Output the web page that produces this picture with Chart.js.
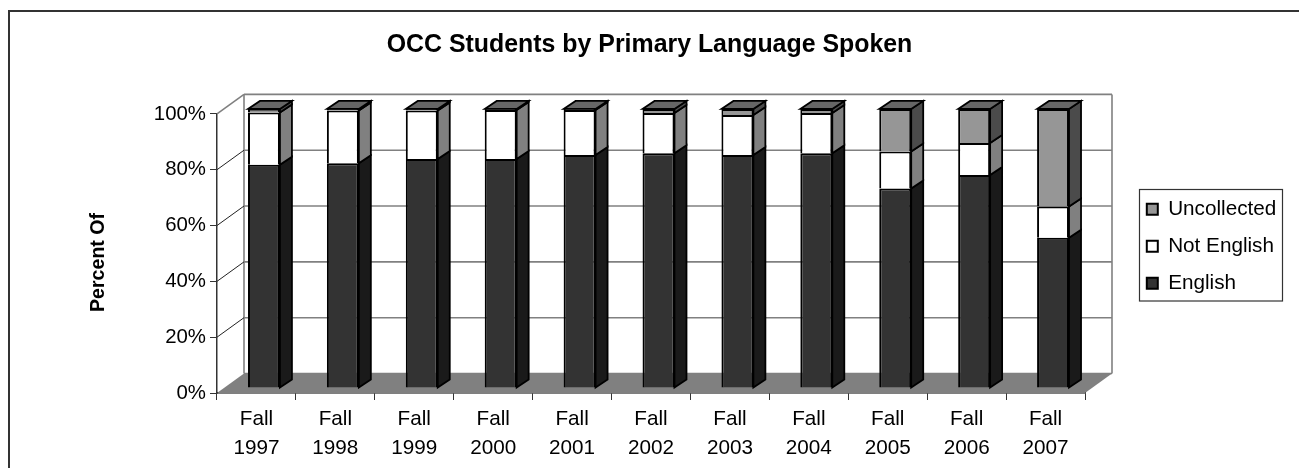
<!DOCTYPE html>
<html><head><meta charset="utf-8">
<style>html,body{margin:0;padding:0;background:#fff}canvas{display:block}</style>
<script src="https://cdn.jsdelivr.net/npm/chart.js@4"></script></head>
<body><canvas id="c" width="1299" height="468"></canvas>
<script>
const categories = [["Fall","1997"],["Fall","1998"],["Fall","1999"],["Fall","2000"],["Fall","2001"],["Fall","2002"],["Fall","2003"],["Fall","2004"],["Fall","2005"],["Fall","2006"],["Fall","2007"]];
const english     = [80, 80.5, 82, 82, 83.5, 84.1, 83.5, 84.1, 71.5, 76.3, 53.8];
const notEnglish  = [18.7, 18.9, 17.4, 17.6, 16.1, 14.4, 14.3, 14.4, 13.2, 11.5, 11.2];
const uncollected = [1.3, 0.6, 0.6, 0.4, 0.4, 1.5, 2.2, 1.5, 15.3, 12.2, 35];
const FONT = '"Liberation Sans", Arial, sans-serif';
const FS = 20.7;
const DEPTH_X = 27, DEPTH_Y = 19.5, BAR_DX = 7.5, BAR_DY = 5, SIDE_X = 12, SIDE_Y = 8;
const sideColors = ['#1a1a1a','#808080','#4b4b4b'];
const topColor = '#666666';

const scene = {
  id:'scene',
  afterLayout(chart){
    if(chart.titleBlock){chart.titleBlock.left=0;chart.titleBlock.right=1299;}
    const lg=chart.legend;
    if(lg){lg.left=1130.5;lg.right=1337;lg.top=182.5;lg.bottom=450;}
    const ys=chart.scales.y;
    if(!ys._titleShifted){
      const orig=ys.drawTitle;
      ys.drawTitle=function(){const c=this.ctx;c.save();c.translate(0,9);orig.call(this);c.restore();};
      ys._titleShifted=true;
    }
  },
  beforeDraw(chart){
    const c=chart.ctx;
    c.save();
    c.fillStyle='#fff';c.fillRect(0,0,1299,468);
    c.strokeStyle='#333';c.lineWidth=2;
    c.beginPath();c.moveTo(9,468);c.lineTo(9,11);c.lineTo(1299,11);c.stroke();
    c.strokeStyle='#333';c.lineWidth=1.2;c.strokeRect(1139.5,189.5,143,111.5);
    c.restore();
  },
  beforeDatasetsDraw(chart){
    const c=chart.ctx,{x:xs,y:ys}=chart.scales;
    const L=xs.left,R=xs.right,B=ys.getPixelForValue(0),T=ys.getPixelForValue(100);
    c.save();
    c.fillStyle='#808080';
    c.beginPath();c.moveTo(L,B);c.lineTo(R,B);c.lineTo(R+DEPTH_X,B-DEPTH_Y);c.lineTo(L+DEPTH_X,B-DEPTH_Y);c.closePath();c.fill();
    c.lineWidth=1.6;c.strokeStyle='#808080';
    ys.ticks.forEach(t=>{
      const y=ys.getPixelForValue(t.value)-DEPTH_Y;
      c.beginPath();c.moveTo(L+DEPTH_X,y);c.lineTo(R+DEPTH_X,y);c.stroke();
    });
    c.beginPath();c.moveTo(L+DEPTH_X,T-DEPTH_Y);c.lineTo(L+DEPTH_X,B-DEPTH_Y);c.stroke();
    c.beginPath();c.moveTo(R+DEPTH_X,T-DEPTH_Y);c.lineTo(R+DEPTH_X,B-DEPTH_Y);c.stroke();
    c.beginPath();c.moveTo(L,T);c.lineTo(L+DEPTH_X,T-DEPTH_Y);c.stroke();
    c.lineWidth=1;c.strokeStyle='#222';
    ys.ticks.forEach(t=>{
      if(t.value===100||t.value===0)return;
      const y=ys.getPixelForValue(t.value);
      c.beginPath();c.moveTo(L,y);c.lineTo(L+DEPTH_X,y-DEPTH_Y);c.stroke();
    });
    c.restore();
    c.save();c.translate(BAR_DX,-BAR_DY);
  },
  afterDatasetsDraw(chart){
    const c=chart.ctx;
    c.lineWidth=1.8;c.strokeStyle='#000';c.lineJoin='miter';
    const n=chart.data.datasets.length;
    chart.data.datasets.forEach((d,i)=>{
      chart.getDatasetMeta(i).data.forEach(b=>{
        const r=b.x+b.width/2,yt=b.y,yb=b.base;
        c.fillStyle=sideColors[i];
        c.beginPath();c.moveTo(r,yb);c.lineTo(r+SIDE_X,yb-SIDE_Y);c.lineTo(r+SIDE_X,yt-SIDE_Y);c.lineTo(r,yt);c.closePath();c.fill();c.stroke();
        if(i===n-1){
          const l=b.x-b.width/2;
          c.fillStyle=topColor;
          c.beginPath();c.moveTo(l,yt);c.lineTo(l+SIDE_X,yt-SIDE_Y);c.lineTo(r+SIDE_X,yt-SIDE_Y);c.lineTo(r,yt);c.closePath();c.fill();c.stroke();
        }
      });
    });
    c.restore();
  }
};

new Chart(document.getElementById('c'),{
  type:'bar',
  data:{labels:categories,datasets:[
    {label:'English',data:english,backgroundColor:'#333333',borderColor:'#000',borderWidth:2,barPercentage:0.405,categoryPercentage:1},
    {label:'Not English',data:notEnglish,backgroundColor:'#ffffff',borderColor:'#000',borderWidth:2,barPercentage:0.405,categoryPercentage:1},
    {label:'Uncollected',data:uncollected,backgroundColor:'#969696',borderColor:'#000',borderWidth:2,barPercentage:0.405,categoryPercentage:1}
  ]},
  plugins:[scene],
  options:{
    responsive:false,animation:false,
    devicePixelRatio:1,
    layout:{padding:{left:0,right:214,top:0,bottom:0}},
    plugins:{
      tooltip:{enabled:false},
      title:{display:true,text:'OCC Students by Primary Language Spoken',color:'#000',
        font:{family:FONT,size:24.9,weight:'bold',lineHeight:1.2},padding:{top:30,bottom:54}},
      legend:{position:'chartArea',reverse:true,align:'start',
        labels:{color:'#000',font:{family:FONT,size:FS},boxWidth:11,boxHeight:11,padding:16.3}}
    },
    scales:{
      x:{stacked:true,offset:true,
        grid:{drawOnChartArea:false,drawTicks:true,tickLength:7,color:'#333',offset:true},
        border:{color:'#000',width:1.5},
        afterFit(s){s.height=75;},
        ticks:{color:'#000',font:{family:FONT,size:FS,lineHeight:1.39},padding:5,maxRotation:0,autoSkip:false}},
      y:{stacked:true,min:0,max:100,
        afterFit(s){s.width=217;},
        grid:{drawOnChartArea:false,drawTicks:true,tickLength:7,color:'#333'},
        border:{color:'#333',width:1.5},
        title:{display:true,text:'Percent Of',color:'#000',font:{family:FONT,size:19.6,weight:'bold'},padding:{top:87,bottom:0}},
        ticks:{color:'#000',stepSize:20,font:{family:FONT,size:20.4},padding:4,callback:v=>v+'%'}}
    }
  }
});
</script></body></html>
